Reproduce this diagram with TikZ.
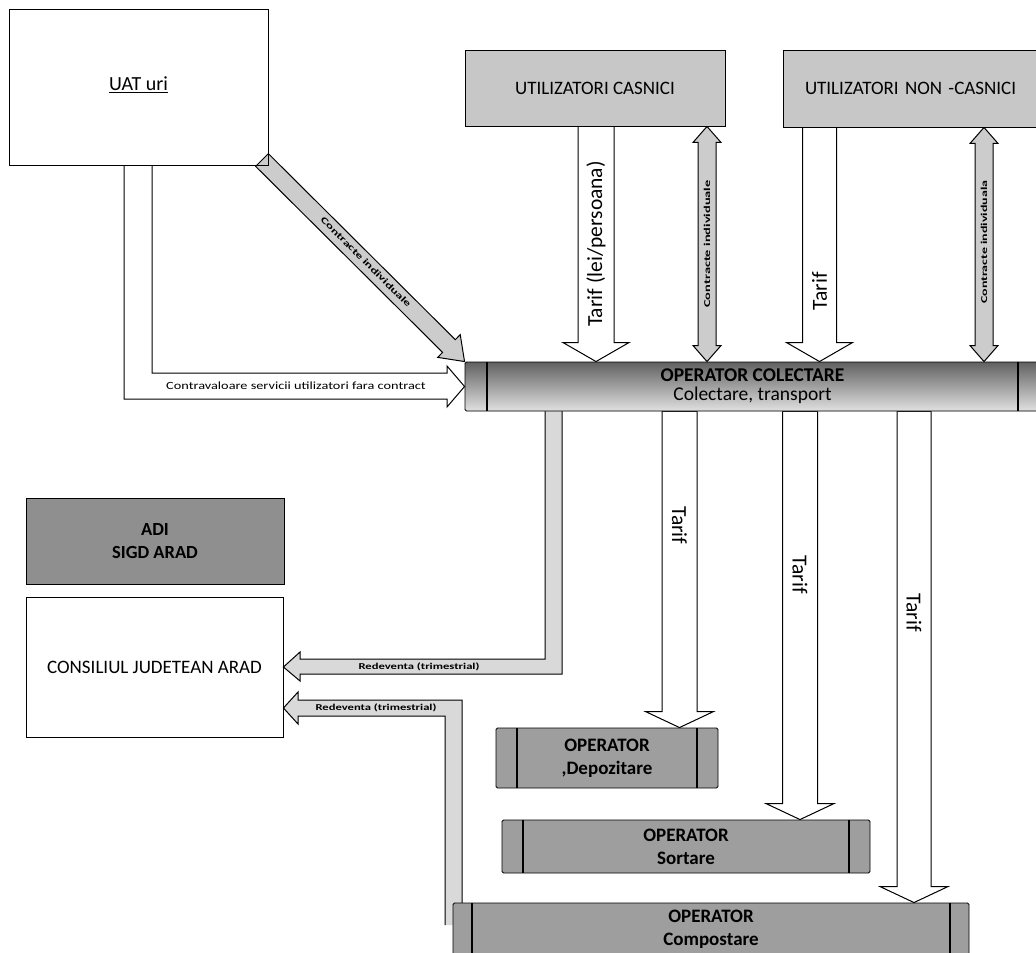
\documentclass[tikz,border=0pt]{standalone}
\usepackage{fontspec}
\setmainfont{Carlito}
\usepackage{graphicx}
\usetikzlibrary{calc}
\pgfdeclarelayer{bg}
\pgfsetlayers{bg,main}

\tikzset{
  box/.style={draw, line width=0.9pt, inner sep=0pt, align=center, font=\fontsize{19}{22}\selectfont},
  opbox/.style={box, fill=black!38, rounded corners=1.5pt, font=\bfseries\fontsize{19}{23}\selectfont,
    path picture={
      \draw[line width=1.3pt] ([xshift=#1]path picture bounding box.north west) -- ([xshift=#1]path picture bounding box.south west);
      \draw[line width=1.3pt] ([xshift=-#1]path picture bounding box.north east) -- ([xshift=-#1]path picture bounding box.south east);}},
  opbox/.default=21pt,
  blk/.style={draw, line width=1pt, fill=white, line join=miter},
  arrowtext/.style={inner sep=0pt, font=\fontsize{21.5}{21.5}\selectfont},
  smalltext/.style={inner sep=0pt, font=\bfseries\fontsize{9}{9}\selectfont},
}

\newcommand\blockarrow[6][]{%
  \coordinate (hb) at ($(#3)!#6!(#2)$);
  \filldraw[blk,#1] ($(#2)!#4!90:(#3)$) -- ($(hb)!#4!90:(#3)$) -- ($(hb)!#5!90:(#3)$) -- (#3)
    -- ($(hb)!#5!-90:(#3)$) -- ($(hb)!#4!-90:(#3)$) -- ($(#2)!#4!-90:(#3)$) -- cycle;
}
\newcommand\dblarrow[6][]{%
  \coordinate (hb1) at ($(#2)!#6!(#3)$);
  \coordinate (hb2) at ($(#3)!#6!(#2)$);
  \filldraw[blk,#1] (#2) -- ($(hb1)!#5!90:(#3)$) -- ($(hb1)!#4!90:(#3)$) -- ($(hb2)!#4!-90:(#2)$)
    -- ($(hb2)!#5!-90:(#2)$) -- (#3) -- ($(hb2)!#5!90:(#2)$) -- ($(hb2)!#4!90:(#2)$)
    -- ($(hb1)!#4!-90:(#3)$) -- ($(hb1)!#5!-90:(#3)$) -- cycle;
}

\begin{document}
\begin{tikzpicture}[x=1pt,y=-1pt]
    \useasboundingbox (0,0) rectangle (1036,953);

    \node[box, minimum width=259pt, minimum height=156pt, font=\fontsize{20}{22}\selectfont] (uat) at (138.5,87) {\raisebox{7pt}{\underline{UAT uri}}};
    \node[box, fill=black!22, minimum width=260pt, minimum height=76pt] (casnici) at (595,88) {UTILIZATORI CASNICI};
    \node[box, fill=black!22, minimum width=257pt, minimum height=77pt, text width=235pt, align=left, inner xsep=11pt] (noncasnici) at (911.5,88.5) {\hspace*{11pt}UTILIZATORI NON -CASNICI};
    \node[opbox=22pt, top color=black!62, bottom color=black!12, minimum width=575pt, minimum height=49pt, font=\bfseries\fontsize{19.5}{19}\selectfont] (colectare) at (752.5,386.5) {OPERATOR COLECTARE\\\mdseries Colectare, transport};
    \node[box, fill=black!44, minimum width=258pt, minimum height=86pt, font=\bfseries\fontsize{18.5}{23}\selectfont] (adi) at (155,541) {ADI\\SIGD ARAD};
    \node[box, minimum width=257pt, minimum height=140pt] (consiliul) at (154.5,667) {CONSILIUL JUDETEAN ARAD};
    \node[opbox, minimum width=222pt, minimum height=60pt] (depozitare) at (607,758) {OPERATOR\\,Depozitare};
    \node[opbox, minimum width=368pt, minimum height=53pt] (sortare) at (686,846.5) {OPERATOR\\Sortare};
    \node[opbox=19pt, minimum width=516pt, minimum height=52pt] (compostare) at (711,929) {OPERATOR\\Compostare};

    \coordinate (ta1) at ([xshift=1pt]casnici.south);
    \coordinate (ta2) at (ta1 |- colectare.north);
    \coordinate (tb1) at ([xshift=112pt]casnici.south);
    \coordinate (tb2) at (tb1 |- colectare.north);
    \coordinate (tc1) at ([xshift=-92pt]noncasnici.south);
    \coordinate (tc2) at (tc1 |- colectare.north);
    \coordinate (td1) at ([xshift=72.5pt]noncasnici.south);
    \coordinate (td2) at (td1 |- colectare.north);
    \coordinate (tf1) at ([xshift=-73pt]colectare.south);
    \coordinate (tf2) at (tf1 |- depozitare.north);
    \coordinate (tg1) at ([xshift=47.5pt]colectare.south);
    \coordinate (tg2) at (tg1 |- sortare.north);
    \coordinate (th1) at ([xshift=161.5pt]colectare.south);
    \coordinate (th2) at (th1 |- compostare.north);
    \coordinate (dg1) at (262,160);

    \begin{pgfonlayer}{bg}
    \blockarrow{ta1}{ta2}{18pt}{33pt}{19pt}
    \dblarrow[fill=black!20]{tb1}{tb2}{9pt}{14pt}{16pt}
    \blockarrow{tc1}{tc2}{17pt}{33pt}{19pt}
    \dblarrow[fill=black!20]{td1}{td2}{9pt}{14pt}{16pt}
    \blockarrow{tf1}{tf2}{17.5pt}{34pt}{16pt}
    \blockarrow{tg1}{tg2}{17.5pt}{34pt}{16pt}
    \blockarrow{th1}{th2}{17pt}{34pt}{16pt}
    \blockarrow[fill=black!20]{dg1}{colectare.north west}{9pt}{16pt}{22pt}
    \filldraw[blk] (124,165) -- (124,399) -- (447,399) -- (447,407) -- (colectare.west) -- (447,366) -- (447,373) -- (152,373) -- (152,165);
    \filldraw[blk, fill=black!15] (545,411) -- (545,659) -- (300,659) -- (300,652) -- (consiliul.east) -- (300,681) -- (300,674) -- (562,674) -- (562,411);
    \filldraw[blk, fill=black!15] (445,925) -- (445,716) -- (298,716) -- (298,724) -- ([yshift=-41pt]consiliul.east) -- (298,692) -- (298,700) -- (462,700) -- (462,925);
    \end{pgfonlayer}

    \node[arrowtext, rotate=90] (ltarifa) at ($(ta1)!0.5!(ta2)$) {Tarif (lei/persoana)};
    \node[smalltext, rotate=90] (lcontrb) at ($(tb1)!0.5!(tb2)$) {\scalebox{1.6}[1]{Contracte individuale}};
    \node[arrowtext, rotate=90] (ltarifc) at ($(tc1)!0.7!(tc2)$) {Tarif};
    \node[smalltext, rotate=90] (lcontrd) at ($(td1)!0.49!(td2)$) {\scalebox{1.55}[1]{Contracte individuala}};
    \node[arrowtext, rotate=-90] (ltariff) at ($(tf1)!0.36!(tf2)$) {Tarif};
    \node[arrowtext, rotate=-90] (ltarifg) at ($(tg1)!0.4!(tg2)$) {Tarif};
    \node[arrowtext, rotate=-90] (ltarifh) at ($(th1)!0.41!(th2)$) {Tarif};
    \node[smalltext, rotate=-45] (lcontrdg) at (366,262) {\scalebox{1.55}[1]{Contracte individuale}};
    \node[inner sep=0pt, font=\fontsize{11}{11}\selectfont] (lcontrav) at (296,385.5) {\scalebox{1.3}[1]{Contravaloare servicii utilizatori fara contract}};
    \node[smalltext] (lred1) at (419,666.5) {\scalebox{1.4}[1]{Redeventa (trimestrial)}};
    \node[smalltext] (lred2) at (376,708) {\scalebox{1.4}[1]{Redeventa (trimestrial)}};
\end{tikzpicture}
\end{document}
